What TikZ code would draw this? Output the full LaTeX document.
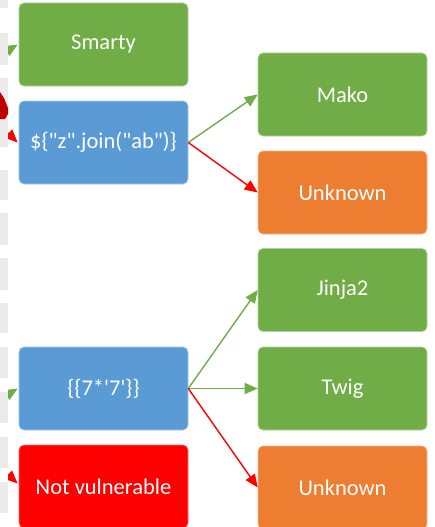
\documentclass[tikz,border=0pt]{standalone}
\usepackage{fontspec}
\newfontfamily\boxfont{Carlito}
\usetikzlibrary{arrows.meta}
\definecolor{cgreen}{HTML}{70AD47}
\definecolor{cblue}{HTML}{5B9BD5}
\definecolor{corange}{HTML}{ED7D31}
\definecolor{cred}{HTML}{FF0000}
\definecolor{cdarkred}{HTML}{C00000}
\definecolor{cstripe}{HTML}{EBEBEB}
\tikzset{
  box/.style={rectangle, rounded corners=5pt, fill=#1, draw=#1!55!white, line width=0.6pt,
    minimum width=169pt, minimum height=83pt, inner sep=0pt, text=white,
    font=\boxfont\fontsize{22.5}{27}\selectfont},
  garrow/.style={draw=cgreen, line width=1.4pt, -{Triangle[length=13pt,width=11pt]}},
  rarrow/.style={draw=cred, line width=1.4pt, -{Triangle[length=13pt,width=11pt]}},
}
\begin{document}
\begin{tikzpicture}[x=1pt,y=-1pt]
\clip (0,0) rectangle (434,527);
\fill[white] (0,0) rectangle (434,527);
% left column
\node[box=cgreen]  (smarty) at (103.5,44.5)  {Smarty};
\node[box=cblue]   (join)   at (103.5,142.5) {\$\{"z".join("ab")\}};
\node[box=cblue]   (seven)  at (103.5,388.5) {\{\{7*'7'\}\}};
\node[box=cred]    (notv)   at (103.5,486.5) {Not vulnerable};
% right column
\node[box=cgreen]  (mako)   at (342.5,94.5)  {Mako};
\node[box=corange] (unk1)   at (342.5,192.5) {Unknown};
\node[box=cgreen]  (jinja)  at (342.5,290)   {Jinja2};
\node[box=cgreen]  (twig)   at (342.5,388.5) {Twig};
\node[box=corange] (unk2)   at (342.5,487.5) {Unknown};
% connectors
\draw[garrow] (join.east) -- (mako.west);
\draw[rarrow] (join.east) -- (unk1.west);
\draw[garrow] (seven.east) -- (jinja.west);
\draw[garrow] (seven.east) -- (twig.west);
\draw[rarrow] (seven.east) -- (unk2.west);
% incoming connectors cut off at the left edge
\coordinate (inS) at (-20,67);
\coordinate (inJ) at (-12,114);
\coordinate (inT) at (-20,411);
\coordinate (inN) at (-12,456);
\draw[garrow] (inS) -- ([xshift=-1pt]smarty.west);
\draw[rarrow] (inJ) -- ([xshift=-1pt]join.west);
\draw[garrow] (inT) -- ([xshift=-1pt]seven.west);
\draw[rarrow] (inN) -- ([xshift=-1pt,yshift=3pt]notv.west);
% left strip
\fill[white] (0,0) rectangle (8,527);
\foreach \a/\b in {0/8,33/65,78/110,117/147,170/200,213/245,258/290,303/333,347/378,392/423,437/468,482/513}
  \fill[cstripe] (0,\a) rectangle (8,\b);
\fill[cdarkred] (0,92) -- (4,98) -- (8,108) -- (8,114) -- (5,119) -- (0,119) -- cycle;
\end{tikzpicture}
\end{document}
